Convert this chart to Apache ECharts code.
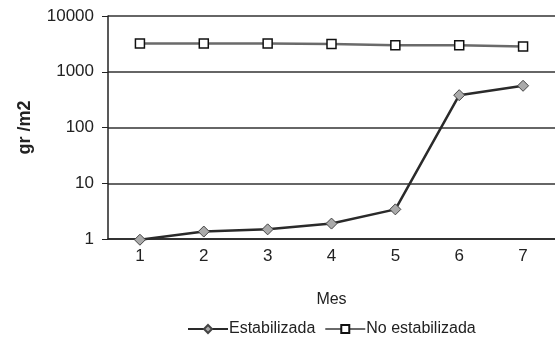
<!DOCTYPE html>
<html><head><meta charset="utf-8">
<script src="https://cdn.jsdelivr.net/npm/echarts@6/dist/echarts.min.js"></script>
<style>html,body{margin:0;padding:0;background:#fff}#c{width:555px;height:343px}</style>
</head><body><div id="c"></div>
<script>
var months = ['1','2','3','4','5','6','7'];
var estabilizada = [0.97, 1.36, 1.49, 1.89, 3.4, 380, 560];
var noEstabilizada = [3200, 3200, 3200, 3150, 3000, 3000, 2850];
var yTicks = [1, 10, 100, 1000, 10000];

var chart = echarts.init(document.getElementById('c'), null, {renderer:'canvas'});
var font = 'Liberation Sans, Arial, sans-serif';
chart.setOption({
  animation: false,
  backgroundColor: '#ffffff',
  grid: {left: 108, top: 16, width: 450, height: 223, containLabel: false},
  xAxis: {
    type: 'category', data: months, boundaryGap: true,
    name: 'Mes', nameLocation: 'middle', nameGap: 53,
    nameTextStyle: {fontFamily: font, fontSize: 16, color: '#222'},
    axisLine: {lineStyle: {color: '#222', width: 1.5}},
    axisTick: {alignWithLabel: true, length: 5, lineStyle: {color: '#222'}},
    axisLabel: {fontFamily: font, fontSize: 17, color: '#222', margin: 9}
  },
  yAxis: {
    type: 'log', logBase: 10, min: yTicks[0], max: yTicks[yTicks.length-1],
    name: 'gr /m2', nameLocation: 'middle', nameGap: 74, nameRotate: 90,
    nameTextStyle: {fontFamily: font, fontSize: 18, fontWeight: 'bold', color: '#222'},
    axisLine: {show: true, lineStyle: {color: '#222', width: 1.5}},
    axisTick: {show: true, inside: false, length: 6, lineStyle: {color: '#222'}},
    axisLabel: {fontFamily: font, fontSize: 17, color: '#222', margin: 14,
      formatter: function (v) { return String(v); }},
    splitLine: {show: true, lineStyle: {color: '#333', width: 1.5}}
  },
  legend: {
    top: 316, left: 182, itemWidth: 40, itemHeight: 10, itemGap: 9,
    textStyle: {fontFamily: font, fontSize: 16, color: '#222', padding: [0, 0, 0, -4]},
    data: ['Estabilizada', 'No estabilizada']
  },
  series: [
    {name: 'Estabilizada', type: 'line', data: estabilizada, clip: false,
     symbol: 'diamond', symbolSize: 11,
     lineStyle: {color: '#2a2a2a', width: 2.5},
     itemStyle: {color: '#aaaaaa', borderColor: '#444', borderWidth: 1}},
    {name: 'No estabilizada', type: 'line', data: noEstabilizada, clip: false,
     symbol: 'rect', symbolSize: 9,
     lineStyle: {color: '#6a6a6a', width: 2.5},
     itemStyle: {color: '#ffffff', borderColor: '#111', borderWidth: 1.5}}
  ]
});
</script></body></html>
